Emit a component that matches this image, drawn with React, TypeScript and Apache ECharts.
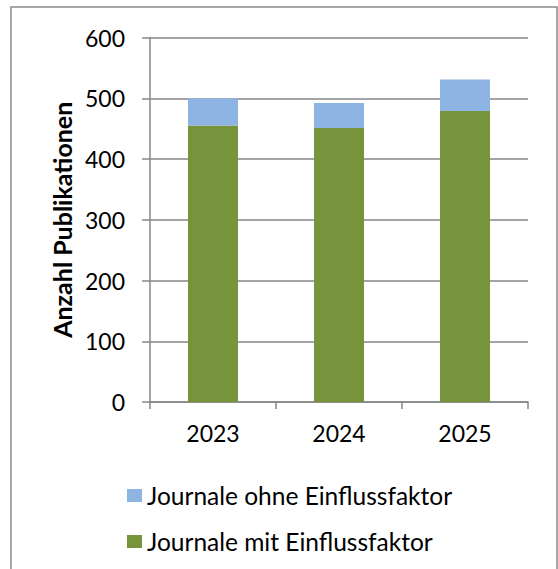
import React, { useEffect, useRef } from "react";
import * as echarts from "echarts";

const categories = ["2023", "2024", "2025"];
const mitEinfluss = [455, 451, 479];
const ohneEinfluss = [45, 41, 52];
const yTicks = { min: 0, max: 600, interval: 100 };
const seriesNames = ["Journale ohne Einflussfaktor", "Journale mit Einflussfaktor"];

const FONT = "Lato";

export default function App() {
  const ref = useRef<HTMLDivElement>(null);
  useEffect(() => {
    if (!ref.current) return;
    const chart = echarts.init(ref.current, undefined, { renderer: "svg" });
    chart.setOption({
      animation: false,
      backgroundColor: "#ffffff",
      textStyle: { fontFamily: FONT },
      graphic: [
        {
          type: "rect",
          shape: { x: 11, y: 7, width: 546, height: 600 },
          style: { fill: "none", stroke: "#8a8a8a", lineWidth: 1.5 },
          silent: true,
        },
      ],
      grid: { left: 150, right: 30, top: 37.5, bottom: 167, containLabel: false },
      legend: {
        orient: "vertical",
        left: 122,
        top: 478,
        itemWidth: 15,
        itemHeight: 13,
        itemGap: 21,
        icon: "rect",
        data: seriesNames,
        textStyle: { fontFamily: FONT, fontSize: 24.5, color: "#000" },
      },
      xAxis: {
        type: "category",
        data: categories,
        axisLine: { lineStyle: { color: "#868686", width: 1.5 } },
        axisTick: { show: true, length: 7, lineStyle: { color: "#868686", width: 1.5 } },
        axisLabel: { fontFamily: FONT, fontSize: 23, color: "#000", margin: 19 },
      },
      yAxis: {
        type: "value",
        min: yTicks.min,
        max: yTicks.max,
        interval: yTicks.interval,
        name: "Anzahl Publikationen",
        nameLocation: "middle",
        nameRotate: 90,
        nameGap: 76,
        nameTextStyle: { fontFamily: FONT, fontSize: 25, fontWeight: "bold", color: "#000" },
        axisLine: { show: true, lineStyle: { color: "#868686", width: 1.5 } },
        axisTick: { show: true, length: 8, lineStyle: { color: "#868686", width: 1.5 } },
        axisLabel: { fontFamily: FONT, fontSize: 23, color: "#000", margin: 25 },
        splitLine: { show: true, lineStyle: { color: "#868686", width: 1.5 } },
      },
      series: [
        {
          name: seriesNames[1],
          type: "bar",
          stack: "total",
          data: mitEinfluss,
          barWidth: 50,
          itemStyle: { color: "#77933C" },
        },
        {
          name: seriesNames[0],
          type: "bar",
          stack: "total",
          data: ohneEinfluss,
          barWidth: 50,
          itemStyle: { color: "#8EB4E3" },
        },
      ],
    });
    return () => chart.dispose();
  }, []);
  return (
    <div
      ref={ref}
      style={{ position: "fixed", left: 0, top: 0, width: 558, height: 569 }}
    />
  );
}
